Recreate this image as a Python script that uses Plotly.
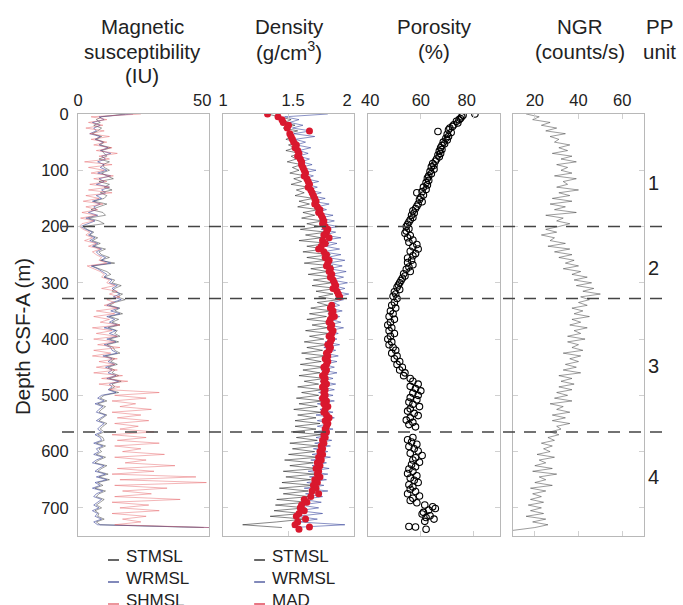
import plotly.graph_objects as go

W, H = 683, 605

# ---------------- data ----------------
depth_grid = list(range(0, 750, 5))  # regular 5 m sampling, 150 samples

# Magnetic susceptibility (IU)
ms_stmsl = (
    [18, 9, 7, 8.5, 6, 9, 7.5, 5.5, 9, 7]
    + [10, 8.5, 12.5, 9, 10, 11, 8, 12, 9.5, 10]
    + [12, 9, 11, 13.5, 8, 12, 10, 13, 8.5, 11]
    + [10, 6, 11, 8, 5, 9.5, 10.5, 4, 8, 10]
    + [2, 3.5, 6, 4.5, 7.5, 5.5, 8.5, 6, 10.5, 8]
    + [9, 12, 8.5, 14, 5.5, 8, 11, 12.5, 10, 14]
    + [13, 16.5, 14, 13, 17, 15, 18, 14, 12, 16]
    + [14, 17, 12, 15.5, 13, 16, 11.5, 15, 14, 16]
    + [12, 15.5, 11, 13.5, 14, 16, 10.5, 14, 12.5, 15]
    + [11.5, 14, 13, 15.5, 12, 16.5, 13, 14, 12, 15.5]
    + [10, 8.5, 11, 7.5, 10.5, 9, 8, 11, 9.5, 8]
    + [11, 9.5, 8.5, 10, 7.5, 9.5, 10, 7, 10.5, 8]
    + [9, 7, 10.5, 8, 6.5, 11, 9, 7.5, 11.5, 8]
    + [12, 7.5, 9.5, 6.5, 10.5, 8, 7, 10, 8.5, 7]
    + [9, 6.5, 8, 7.5, 10, 7, 8.5, 48, None, None]
)
ms_wrmsl = (
    [21, 8, 10, 5.5, 8.5, 6, 7, 4.5, 8.5, 6.5]
    + [9.5, 8, 11.5, 8.5, 12.5, 9, 10.5, 7.5, 10, 8.5]
    + [11, 7.5, 12.5, 8, 10, 7, 12, 9, 10.5, 7]
    + [9, 5.5, 8.5, 6, 7, 4, 7.5, 3, 6.5, 4]
    + [1, 3, 5.5, 4, 6.5, 4.5, 7.5, 5.5, 9, 7]
    + [8, 10.5, 9, 12.5, 5, 7.5, 9.5, 11, 10, 13]
    + [12, 15, 13, 14.5, 16, 13.5, 16.5, 13, 11, 15.5]
    + [12.5, 16, 11, 14, 12, 15, 10, 14.5, 12, 15]
    + [11, 14.5, 10, 12.5, 13, 15, 9.5, 13, 11.5, 14]
    + [10.5, 13, 11.5, 14.5, 11, 15.5, 12, 13, 11.5, 14.5]
    + [9, 7.5, 10, 6.5, 9.5, 8, 7, 10.5, 8.5, 7]
    + [10, 8.5, 7.5, 9, 6.5, 8.5, 9, 6, 9.5, 7]
    + [8, 6, 9.5, 7, 5.5, 10, 8, 6.5, 10.5, 7]
    + [11, 6.5, 8.5, 5.5, 9.5, 7, 6, 9, 7.5, 6]
    + [8, 5.5, 7.5, 6.5, 9, 6, 7.5, 50, None, None]
)
ms_shmsl = (
    [24, 5, 11, 4, 9.5, 3, 10, 4.5, 12, 5]
    + [11, 6, 13, 7, 15, 8, 12, 2.5, 13, 4]
    + [10, 5, 13.5, 6, 11, 4.5, 12, 4, 13, 3]
    + [8, 2, 9.5, 3, 7.5, 1.5, 7, 1, 6, 1.5]
    + [0.5, 2, 4.5, 3, 5.5, 2.5, 7, 4, 8.5, 5.5]
    + [7, 9, 8, 11, 3.5, 6, 8.5, 10, 9, 12]
    + [11, 14, 9, 15, 12, 16, 11, 14, 10, 15]
    + [7, 14, 6, 12, 8.5, 16, 5.5, 13, 7, 15]
    + [6, 14, 7.5, 16, 6, 12.5, 5.5, 15, 8, 14]
    + [7, 15, 6, 17, 9, 19, 8, 16, 12, 31]
    + [14, 26, 13, 22, 16, 28, 13, 24, 15, 27]
    + [14, 23, 16, 29, 13, 26, 15, 31, 14, 24]
    + [17, 33, 14, 26, 18, 37, 15, 29, 13, 45]
    + [16, 49, 14, 34, 17, 28, 14, 39, 13, 27]
    + [16, 31, 13, 26, 17, 24, 14, 50, None, None]
)

# Density (g/cm3)
den_stmsl = (
    [1.34, 1.44, 1.52, 1.47, 1.55, 1.46, 1.57, 1.49, 1.53, 1.48]
    + [1.57, 1.50, 1.55, 1.48, 1.59, 1.52, 1.56, 1.49, 1.60, 1.53]
    + [1.58, 1.51, 1.63, 1.54, 1.60, 1.52, 1.65, 1.56, 1.62, 1.55]
    + [1.69, 1.58, 1.66, 1.57, 1.73, 1.61, 1.70, 1.60, 1.76, 1.64]
    + [1.74, 1.59, 1.79, 1.63, 1.75, 1.58, 1.81, 1.64, 1.77, 1.61]
    + [1.82, 1.64, 1.79, 1.62, 1.84, 1.67, 1.80, 1.65, 1.85, 1.69]
    + [1.83, 1.68, 1.87, 1.71, 1.84, 1.73, 1.88, 1.72, 1.80, 1.67]
    + [1.83, 1.66, 1.79, 1.64, 1.84, 1.68, 1.80, 1.63, 1.81, 1.66]
    + [1.77, 1.62, 1.80, 1.64, 1.76, 1.60, 1.79, 1.63, 1.75, 1.59]
    + [1.77, 1.61, 1.74, 1.58, 1.78, 1.62, 1.73, 1.57, 1.76, 1.60]
    + [1.73, 1.56, 1.76, 1.58, 1.72, 1.54, 1.75, 1.57, 1.71, 1.55]
    + [1.74, 1.55, 1.71, 1.52, 1.75, 1.56, 1.72, 1.51, 1.73, 1.53]
    + [1.70, 1.50, 1.73, 1.47, 1.69, 1.51, 1.72, 1.46, 1.70, 1.48]
    + [1.67, 1.45, 1.69, 1.43, 1.65, 1.46, 1.66, 1.41, 1.64, 1.40]
    + [1.63, 1.39, 1.60, 1.36, 1.62, 1.41, 1.15, 1.45, None, None]
)
den_wrmsl = (
    [1.80, 1.47, 1.58, 1.51, 1.61, 1.53, 1.67, 1.54, 1.70, 1.55]
    + [1.63, 1.56, 1.67, 1.58, 1.65, 1.57, 1.66, 1.60, 1.68, 1.59]
    + [1.71, 1.61, 1.69, 1.63, 1.73, 1.64, 1.72, 1.65, 1.75, 1.67]
    + [1.78, 1.68, 1.81, 1.72, 1.79, 1.71, 1.84, 1.74, 1.85, 1.76]
    + [1.88, 1.75, 1.86, 1.77, 1.90, 1.74, 1.87, 1.78, 1.89, 1.76]
    + [1.90, 1.79, 1.93, 1.80, 1.91, 1.81, 1.94, 1.82, 1.92, 1.83]
    + [1.95, 1.84, 1.93, 1.85, 1.96, 1.86, 1.92, 1.84, 1.89, 1.81]
    + [1.91, 1.80, 1.89, 1.82, 1.90, 1.80, 1.92, 1.81, 1.88, 1.79]
    + [1.87, 1.78, 1.89, 1.77, 1.86, 1.78, 1.88, 1.76, 1.87, 1.77]
    + [1.85, 1.75, 1.87, 1.76, 1.84, 1.74, 1.86, 1.75, 1.85, 1.73]
    + [1.84, 1.73, 1.85, 1.72, 1.82, 1.74, 1.84, 1.71, 1.85, 1.72]
    + [1.82, 1.72, 1.84, 1.70, 1.81, 1.71, 1.83, 1.70, 1.82, 1.69]
    + [1.80, 1.68, 1.82, 1.67, 1.79, 1.68, 1.81, 1.65, 1.80, 1.66]
    + [1.79, 1.64, 1.77, 1.62, 1.80, 1.63, 1.76, 1.61, 1.75, 1.59]
    + [1.73, 1.58, 1.76, 1.56, 1.72, 1.57, 1.93, 1.53, None, None]
)
mad_depth = (
    [0, 5, 10, 15, 20, 25, 30, 35, 40, 45]
    + [50, 55, 60, 65, 70, 75, 80, 85, 90, 95]
    + [100, 105, 110, 115, 120, 125, 130, 135, 140, 145]
    + [150, 155, 160, 165, 170, 175, 180, 185, 190, 195]
    + [200, 205, 210, 215, 220, 225, 230, 235, 240, 245]
    + [250, 255, 260, 265, 270, 275, 280, 285, 290, 295]
    + [300, 305, 310, 315, 320, 325, 340, 345]
    + [350, 355, 360, 365, 370, 375, 380, 385, 390, 395]
    + [400, 405, 410, 415, 420, 425, 430, 435, 440, 445]
    + [450, 455, 460, 465, 470, 475, 480, 485, 490, 495]
    + [500, 505, 510, 515, 520, 525, 530, 535, 540, 545]
    + [550, 555, 560, 565, 570, 575, 580, 585, 590, 595]
    + [600, 605, 610, 615, 620, 625, 630, 635, 640, 645]
    + [650, 655, 660, 665, 670, 675, 680, 685, 690, 695]
    + [700, 705, 710, 715, 720, 725, 730, 734, 738]
)
mad_density = (
    [1.34, 1.42, 1.45, 1.46, 1.50, 1.49, 1.66, 1.51, 1.52, 1.53]
    + [1.54, 1.56, 1.55, 1.57, 1.58, 1.57, 1.59, 1.60, 1.60, 1.61]
    + [1.62, 1.63, 1.62, 1.64, 1.65, 1.66, 1.65, 1.67, 1.68, 1.69]
    + [1.70, 1.71, 1.70, 1.72, 1.74, 1.73, 1.75, 1.76, 1.77, 1.76]
    + [1.78, 1.80, 1.79, 1.77, 1.81, 1.76, 1.78, 1.75, 1.73, 1.77]
    + [1.79, 1.78, 1.81, 1.80, 1.79, 1.82, 1.81, 1.83, 1.82, 1.84]
    + [1.85, 1.86, 1.84, 1.87, 1.88, 1.89, 1.83, 1.82]
    + [1.84, 1.83, 1.85, 1.82, 1.81, 1.83, 1.82, 1.84, 1.83, 1.81]
    + [1.83, 1.82, 1.80, 1.82, 1.81, 1.79, 1.80, 1.78, 1.80, 1.79]
    + [1.77, 1.79, 1.78, 1.76, 1.78, 1.77, 1.79, 1.76, 1.78, 1.77]
    + [1.78, 1.76, 1.79, 1.77, 1.80, 1.78, 1.77, 1.79, 1.81, 1.78]
    + [1.80, 1.79, 1.78, 1.79, 1.77, 1.78, 1.76, 1.77, 1.75, 1.76]
    + [1.74, 1.76, 1.73, 1.75, 1.72, 1.74, 1.71, 1.73, 1.72, 1.74]
    + [1.70, 1.72, 1.69, 1.71, 1.68, 1.73, 1.67, 1.62, 1.64, 1.60]
    + [1.59, 1.62, 1.58, 1.56, 1.63, 1.57, 1.55, 1.66, 1.58]
)

# Porosity (%)
por_depth = [
    0, 2, 5, 8, 10, 13, 16, 19, 22, 25, 28, 31, 33, 36, 40, 43, 46, 50, 53, 56,
    60, 63, 66, 70, 73, 76, 80, 84, 88, 91, 94, 98, 102, 106, 110, 114, 118, 122, 126, 130,
    134, 140, 138, 144, 148, 152, 156, 160, 164, 168, 172, 176, 180, 184, 188, 192, 196, 200, 204, 208,
    212, 216, 220, 224, 228, 232, 236, 240, 244, 248, 252, 256, 260, 264, 268, 272, 276, 280, 284, 288,
    292, 296, 300, 304, 308, 312, 316, 320, 324, 328, 335, 340, 345, 350, 355, 360, 365, 370, 375, 380,
    385, 390, 395, 400, 405, 410, 415, 420, 425, 430, 435, 440, 445, 450, 455, 460, 465, 470, 475, 480,
    484, 488, 492, 496, 500, 504, 508, 512, 516, 520, 524, 528, 532, 536, 540, 544, 548, 552, 556, 575,
    579, 583, 587, 591, 595, 599, 603, 607, 611, 615, 619, 623, 627, 631, 635, 639, 643, 647, 651, 655,
    659, 663, 667, 671, 675, 679, 683, 687, 691, 695, 698, 701, 704, 708, 711, 714, 717, 720, 724, 733,
    734, 738,
]
por_value = [
    80.5, 76, 75.5, 75, 74.5, 73.5, 74, 72.5, 72, 71, 70.5, 66.5, 71.5, 70, 70.5, 69.5, 70, 68.5, 69, 68,
    67.5, 68, 67, 67.5, 66.5, 67, 66, 65.5, 64.5, 65, 64, 65, 63.5, 64, 63, 62.5, 63, 62, 62.5, 61,
    62, 58.5, 60.5, 61, 60, 59.5, 60.5, 59, 58.5, 58, 57, 57.5, 56.5, 57, 56, 55.5, 55, 54.5, 55.5, 54.5,
    54, 56, 55, 57, 55.5, 58.5, 57, 59, 56, 58, 57, 55, 56.5, 55, 57, 55.5, 54.5, 56, 53.5, 54,
    53, 52.5, 52, 51.5, 51, 52, 50, 50.5, 49.5, 51, 50, 49, 50.5, 48.5, 49.5, 48, 50, 48.5, 47.5, 49,
    48, 50, 48.5, 47.5, 49, 48, 49.5, 50.5, 49, 51, 50, 52, 51, 53, 52, 54, 53.5, 56, 57, 59,
    56, 58, 60, 57, 59, 56, 58.5, 55.5, 57, 59.5, 56, 55, 57.5, 59, 56, 54.5, 57, 55.5, 58, 57,
    55, 56.5, 58.5, 55.5, 57.5, 59, 56, 60.5, 58, 57, 59.5, 56.5, 58, 55.5, 57, 55, 58.5, 56, 57.5, 59,
    55.5, 57, 56, 58, 55, 59.5, 57, 56, 58.5, 61.5, 64.5, 65.5, 63, 61, 60.5, 63.5, 62, 65, 61.5, 55.5,
    58, 62,
]

# NGR (counts/s)
ngr = (
    [16, 22, 19, 27, 23, 30, 25, 34, 27, 31]
    + [29, 36, 31, 35, 28, 37, 32, 39, 30, 35]
    + [32, 37, 29, 39, 33, 35, 30, 40, 31, 36]
    + [28, 37, 27, 34, 29, 39, 25, 33, 30, 36]
    + [31, 25, 30, 23, 29, 27, 34, 26, 36, 29]
    + [37, 31, 38, 34, 40, 33, 41, 37, 44, 38]
    + [46, 39, 47, 42, 50, 41, 45, 40, 44, 37]
    + [42, 38, 45, 37, 41, 36, 44, 38, 41, 35]
    + [43, 35, 40, 37, 42, 33, 41, 36, 40, 34]
    + [39, 33, 41, 31, 37, 32, 38, 31, 37, 30]
    + [35, 29, 37, 27, 33, 30, 36, 28, 34, 28]
    + [36, 30, 32, 27, 31, 26, 29, 23, 28, 24]
    + [27, 21, 29, 22, 25, 20, 28, 19, 30, 22]
    + [25, 20, 28, 18, 25, 19, 23, 18, 24, 17]
    + [23, 18, 24, 16, 25, 19, 26, 20, 10, None]
)

unit_boundaries = [200, 328, 565]
unit_labels = ["1", "2", "3", "4"]
unit_label_depths = [122, 273, 447, 645]

# ---------------- figure ----------------
FONT = "Liberation Sans, Arial, Helvetica, sans-serif"
TXT = "#222222"
NB = "\u00a0"

def px(x):
    return x / W

def py(y):
    return 1 - y / H

panels_x = [(78, 209), (223, 354), (368, 500), (513, 644)]
y_dom = [py(536), py(114)]
xranges = [[0, 50], [1, 2], [40, 90], [10, 70]]
xticks = [[0, 50], [1, 1.5, 2], [40, 60, 80], [20, 40, 60]]
xticktext = [
    ["0", "50" + NB * 3],
    ["1", NB * 2 + "1.5", "2" + NB * 3],
    [NB + "40", "60", "80" + NB * 3],
    ["20", "40", "60"],
]

fig = go.Figure()

def add(tr, i):
    tr.update(xaxis="x" if i == 0 else f"x{i+1}", yaxis="y" if i == 0 else f"y{i+1}",
              showlegend=False, hoverinfo="skip")
    fig.add_trace(tr)

# Magnetic susceptibility
add(go.Scatter(x=ms_stmsl, y=depth_grid, mode="lines",
               line=dict(color="rgba(0,0,0,0.55)", width=0.7)), 0)
add(go.Scatter(x=ms_wrmsl, y=depth_grid, mode="lines",
               line=dict(color="rgba(45,55,145,0.7)", width=0.8)), 0)
add(go.Scatter(x=ms_shmsl, y=depth_grid, mode="lines",
               line=dict(color="rgba(228,90,95,0.45)", width=1.0)), 0)

# Density
add(go.Scatter(x=den_stmsl, y=depth_grid, mode="lines",
               line=dict(color="rgba(0,0,0,0.6)", width=0.8)), 1)
add(go.Scatter(x=den_wrmsl, y=depth_grid, mode="lines",
               line=dict(color="rgba(45,60,150,0.7)", width=0.8)), 1)
add(go.Scatter(x=mad_density, y=mad_depth, mode="markers",
               marker=dict(color="#d9182e", size=7, line=dict(width=0))), 1)

# Porosity
add(go.Scatter(x=por_value, y=por_depth, mode="markers",
               marker=dict(symbol="circle-open", color="#000000", size=6.5,
                           line=dict(width=1.1, color="#000000"))), 2)

# NGR
add(go.Scatter(x=ngr, y=depth_grid, mode="lines",
               line=dict(color="rgba(40,40,40,0.65)", width=0.7)), 3)

layout = dict(
    width=W, height=H,
    margin=dict(l=0, r=0, t=0, b=0),
    paper_bgcolor="white", plot_bgcolor="white",
    font=dict(family=FONT, size=16, color=TXT),
    showlegend=False,
)

axis_line = "#b8b8b8"
for i in range(4):
    xn = "xaxis" if i == 0 else f"xaxis{i+1}"
    yn = "yaxis" if i == 0 else f"yaxis{i+1}"
    layout[xn] = dict(
        domain=[px(panels_x[i][0]), px(panels_x[i][1])],
        range=xranges[i], side="top",
        anchor="y" if i == 0 else f"y{i+1}",
        tickvals=xticks[i], ticktext=xticktext[i],
        ticks="inside", ticklen=5, tickcolor="#d0d0d0",
        showline=True, linecolor=axis_line, linewidth=1, mirror="ticks",
        showgrid=False, zeroline=False, automargin=False,
        tickfont=dict(size=16.5, color=TXT),
    )
    layout[yn] = dict(
        domain=y_dom, range=[750, 0],
        anchor="x" if i == 0 else f"x{i+1}",
        tickvals=[0, 100, 200, 300, 400, 500, 600, 700],
        ticks="inside", ticklen=5, tickcolor="#d0d0d0",
        showline=True, linecolor=axis_line, linewidth=1, mirror="ticks",
        showgrid=False, zeroline=False, automargin=False,
        showticklabels=(i == 0), ticklabelstandoff=5,
        tickfont=dict(size=16.5, color=TXT),
    )
    if i > 0:
        layout[yn]["matches"] = "y"

fig.update_layout(**layout)

# unit boundaries (dashed)
for d in unit_boundaries:
    fig.add_shape(type="line", xref="paper", yref="y", x0=px(62), x1=px(666), y0=d, y1=d,
                  line=dict(color="#444444", width=1.5, dash="12px,9px"), layer="above")

# titles
titles = [
    (142, ["Magnetic", "susceptibility", "(IU)"]),
    (289, ["Density", "(g/cm<sup>3</sup>)"]),
    (434, ["Porosity", "(%)"]),
    (580, ["NGR", "(counts/s)"]),
    (659, ["PP", "unit"]),
]
for xc, lines in titles:
    for k, t in enumerate(lines):
        fig.add_annotation(text=t, x=px(xc), y=py(26 + 25 * k), xref="paper", yref="paper",
                           showarrow=False, xanchor="center", yanchor="middle",
                           font=dict(size=20.5, color=TXT, family=FONT))

# PP unit numbers
for lab, d in zip(unit_labels, unit_label_depths):
    fig.add_annotation(text=lab, x=px(653), y=d, xref="paper", yref="y", showarrow=False,
                       xanchor="center", yanchor="middle", font=dict(size=20, color=TXT))

# y axis title
fig.add_annotation(text="Depth CSF-A (m)", x=px(22), y=py(337), xref="paper", yref="paper",
                   showarrow=False, textangle=-90, xanchor="center", yanchor="middle",
                   font=dict(size=20.5, color=TXT))

# legends
legends = [
    (108, [("STMSL", "#000000"), ("WRMSL", "#2d3a8c"), ("SHMSL", "#e0505a")]),
    (254, [("STMSL", "#000000"), ("WRMSL", "#2d3a8c"), ("MAD", "#d9182e")]),
]
for lx, items in legends:
    for k, (name, col) in enumerate(items):
        ty = 556 + 22 * k
        fig.add_shape(type="line", xref="paper", yref="paper",
                      x0=px(lx), x1=px(lx + 11), y0=py(ty + 4), y1=py(ty + 4),
                      line=dict(color=col, width=1.2))
        fig.add_annotation(text=name, x=px(lx + 16), y=py(ty), xref="paper", yref="paper",
                           showarrow=False, xanchor="left", yanchor="middle",
                           font=dict(size=17, color=TXT))

fig.write_html("out.html", config={"displayModeBar": False},
               post_script="document.body.style.margin='0px';")
